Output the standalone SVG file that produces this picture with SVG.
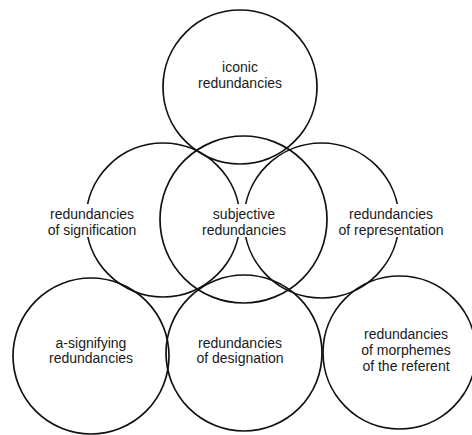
<svg xmlns="http://www.w3.org/2000/svg" width="472" height="435" viewBox="0 0 472 435">
<style>
.c{fill:none;stroke:#111;stroke-width:1.7}
.t{font-family:"Liberation Sans",Arial,sans-serif;font-size:14px;fill:#1a1a1a;text-anchor:middle}
.bg{fill:#fff;stroke:none}
</style>
<rect width="472" height="435" fill="#fff"/>
<g id="connectors"/>
<g id="iconic">
<circle class="c" cx="240" cy="87" r="77"/>
<text class="t" x="240" y="72">iconic</text>
<text class="t" x="240" y="88">redundancies</text>
</g>
<g id="signification">
<circle class="c" cx="163" cy="220" r="77"/>
<rect class="bg" x="44" y="204" width="98" height="33"/>
<text class="t" x="92" y="219">redundancies</text>
<text class="t" x="92" y="235">of signification</text>
</g>
<g id="representation">
<circle class="c" cx="321.5" cy="220.5" r="77.5"/>
<rect class="bg" x="341" y="204" width="101" height="33"/>
<text class="t" x="391" y="219">redundancies</text>
<text class="t" x="391" y="235">of representation</text>
</g>
<g id="a-signifying">
<circle class="c" cx="91" cy="356" r="78"/>
<text class="t" x="91" y="348">a-signifying</text>
<text class="t" x="91" y="363">redundancies</text>
</g>
<g id="designation">
<circle class="c" cx="244" cy="353" r="78"/>
<text class="t" x="240" y="348">redundancies</text>
<text class="t" x="240" y="363">of designation</text>
</g>
<g id="morphemes">
<circle class="c" cx="399.5" cy="352.5" r="76.5"/>
<text class="t" x="406" y="339">redundancies</text>
<text class="t" x="406" y="355">of morphemes</text>
<text class="t" x="406" y="371">of the referent</text>
</g>
<g id="subjective">
<circle class="c" cx="243.5" cy="219.5" r="83.5"/>
<rect class="bg" x="196" y="204" width="96" height="33"/>
<text class="t" x="244" y="219">subjective</text>
<text class="t" x="244" y="235">redundancies</text>
</g>
</svg>
